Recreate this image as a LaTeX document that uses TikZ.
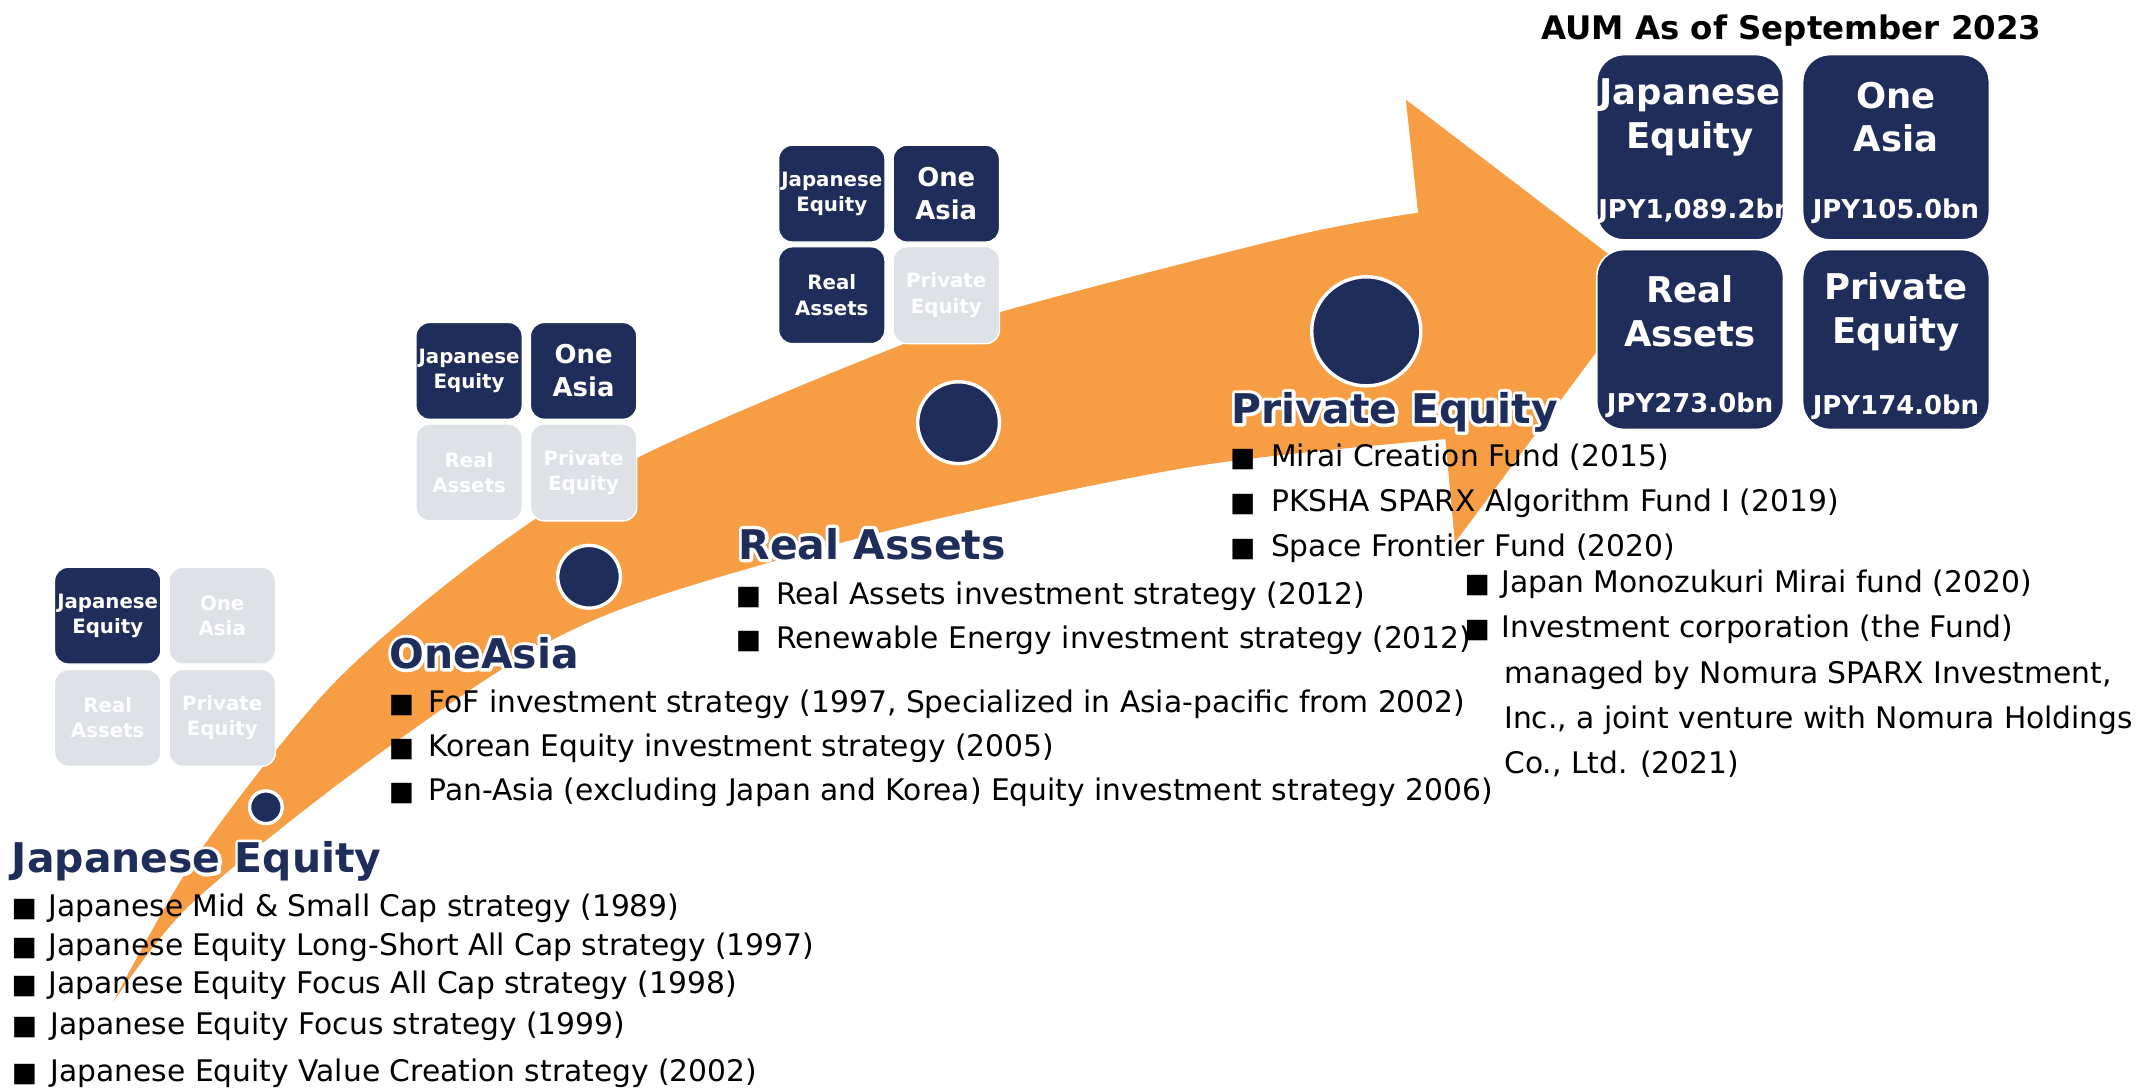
\documentclass[tikz,border=0pt]{standalone}
\usepackage{fontspec}
\setmainfont{DejaVu Sans}
\newfontface\glowface[FakeBold=16]{DejaVu Sans Bold}
\usepackage{graphicx}
\definecolor{navy}{RGB}{31,45,90}
\definecolor{arrorange}{RGB}{247,157,67}
\definecolor{boxgray}{RGB}{222,226,230}
\newcommand\fsz[2]{\fontsize{#1}{#2}\selectfont}
\newcommand\sq[1]{\llap{\makebox[#1][l]{\scalebox{0.9}{■}}}}
\newcommand\glowtxt[1]{\leavevmode\rlap{\special{pdf:literal direct 1 j}\color{white}\glowface #1\special{pdf:literal direct 0 j}}#1}
\begin{document}
\begin{tikzpicture}[x=1pt,y=-1pt,
  sbox/.style={rounded corners=10pt, minimum width=78pt, minimum height=71pt, draw=white, line width=1pt, inner sep=0pt, align=center, text=white, font=\bfseries\fsz{14.5}{18.5}},
  navybox/.style={sbox, fill=navy},
  graybox/.style={sbox, fill=boxgray},
  bigfont/.style={font=\bfseries\fsz{19}{24}},
  bbox/.style={rounded corners=20pt, minimum width=137pt, draw=white, line width=1.2pt, fill=navy, inner sep=0pt},
  bname/.style={text=white, align=center, font=\bfseries\fsz{26}{32}},
  bamt/.style={text=white, font=\bfseries\fsz{19}{22}, inner sep=0pt},
  dot/.style={circle, fill=navy, draw=white, line width=2.5pt, inner sep=0pt},
  ttl/.style={anchor=base west, text=navy, inner sep=0pt, font=\bfseries\fsz{30}{34}},
  bl/.style={anchor=base west, text=black, inner sep=0pt, font=\fsz{21.8}{26}},
]
\fill[white] (0,0) rectangle (1568,798);
\useasboundingbox (0,0) rectangle (1568,798);

% arrow
\fill[arrorange] plot[smooth, tension=0.5] coordinates {(83,735) (144,628) (242,504) (350,411) (467,336) (661,253) (762,221) (953,172) (1040,156)}
  -- (1031,73) -- (1208,208) -- (1067,398) -- (1060,322)
  -- plot[smooth, tension=0.5] coordinates {(1060,322) (876,342) (660,387) (474,440) (379,484) (252,572) (138,665) (83,735)} -- cycle;

% milestone dots
\node[dot, minimum size=24pt] (c1) at (195,592) {};
\node[dot, minimum size=46pt] (c2) at (432,423) {};
\node[dot, minimum size=60pt] (c3) at (703,310) {};
\node[dot, minimum size=80pt] (c4) at (1002,243) {};

% group 1
\node[navybox] (g1je) at (79,451.5) {Japanese\\Equity};
\node[graybox] (g1oa) at (163,451.5) {One\\Asia};
\node[graybox] (g1ra) at (79,526.5) {Real\\Assets};
\node[graybox] (g1pe) at (163,526.5) {Private\\Equity};
% group 2
\node[navybox] (g2je) at (344,272) {Japanese\\Equity};
\node[navybox, bigfont] (g2oa) at (428,272) {One\\Asia};
\node[graybox] (g2ra) at (344,346.5) {Real\\Assets};
\node[graybox] (g2pe) at (428,346.5) {Private\\Equity};
% group 3
\node[navybox] (g3je) at (610,142) {Japanese\\Equity};
\node[navybox, bigfont] (g3oa) at (694,142) {One\\Asia};
\node[navybox] (g3ra) at (610,216.5) {Real\\Assets};
\node[graybox] (g3pe) at (694,216.5) {Private\\Equity};

% AUM boxes
\node[anchor=base west, inner sep=0pt, font=\bfseries\fsz{23.8}{28}] (aum) at (1130,29) {AUM As of September 2023};
\node[bbox, minimum height=136pt] (bje) at (1239.5,108) {};
\node[bbox, minimum height=136pt] (boa) at (1390.5,108) {};
\node[bbox, minimum height=132pt] (bra) at (1239.5,249) {};
\node[bbox, minimum height=132pt] (bpe) at (1390.5,249) {};
\node[bname] (bjet) at (1239.5,86) {Japanese\\Equity};
\node[bname] (boat) at (1390.5,86) {One\\Asia};
\node[bname] (brat) at (1239.5,228.5) {Real\\Assets};
\node[bname] (bpet) at (1390.5,228.5) {Private\\Equity};
\begin{scope}
\clip[rounded corners=20pt] (1171,40) rectangle (1307.5,176);
\node[bamt, anchor=west] (bjea) at (1172,155) {JPY1,089.2bn};
\end{scope}
\node[bamt] (boaa) at (1390.5,155) {JPY105.0bn};
\node[bamt] (braa) at (1239.5,297) {JPY273.0bn};
\node[bamt] (bpea) at (1390.5,299) {JPY174.0bn};

% titles
\node[ttl] (tje) at (8.6,640) {\glowtxt{Japanese Equity}};
\node[ttl] (toa) at (285.5,490.2) {\glowtxt{OneAsia}};
\node[ttl] (tra) at (541.5,410) {\glowtxt{Real Assets}};
\node[ttl] (tpe) at (903,310.5) {\glowtxt{Private Equity}};

% Japanese Equity bullets
\node[bl] (je1) at (35.4,672) {\sq{27pt}Japanese Mid \& Small Cap strategy (1989)};
\node[bl] (je2) at (35.4,700.5) {\sq{27pt}Japanese Equity Long-Short All Cap strategy (1997)};
\node[bl] (je3) at (35.4,728.5) {\sq{27pt}Japanese Equity Focus All Cap strategy (1998)};
\node[bl] (je4) at (37,759) {\sq{28.5pt}Japanese Equity Focus strategy (1999)};
\node[bl] (je5) at (37,793) {\sq{28.5pt}Japanese Equity Value Creation strategy (2002)};
% OneAsia bullets
\node[bl] (oa1) at (314,522.7) {\sq{29pt}FoF investment strategy (1997, Specialized in Asia-pacific from 2002)};
\node[bl] (oa2) at (314,555) {\sq{29pt}Korean Equity investment strategy (2005)};
\node[bl] (oa3) at (314,587) {\sq{29pt}Pan-Asia (excluding Japan and Korea) Equity investment strategy 2006)};
% Real Assets bullets
\node[bl] (ra1) at (569,443) {\sq{29.5pt}Real Assets investment strategy (2012)};
\node[bl] (ra2) at (569,475.5) {\sq{29.5pt}Renewable Energy investment strategy (2012)};
% Private Equity bullets
\node[bl] (pe1) at (932,342.3) {\sq{30pt}Mirai Creation Fund (2015)};
\node[bl] (pe2) at (932,375.3) {\sq{30pt}PKSHA SPARX Algorithm Fund I (2019)};
\node[bl] (pe3) at (932,408.3) {\sq{30pt}Space Frontier Fund (2020)};
\node[bl] (pe4) at (1101,434.5) {\sq{27pt}Japan Monozukuri Mirai fund (2020)};
\node[bl] (pe5) at (1101,467.5) {\sq{27pt}Investment corporation (the Fund)};
\node[bl] (pe6) at (1103,501) {managed by Nomura SPARX Investment,};
\node[bl] (pe7) at (1103,534.5) {Inc., a joint venture with Nomura Holdings};
\node[bl] (pe8) at (1103,567.5) {Co., Ltd. (2021)};
\end{tikzpicture}
\end{document}
